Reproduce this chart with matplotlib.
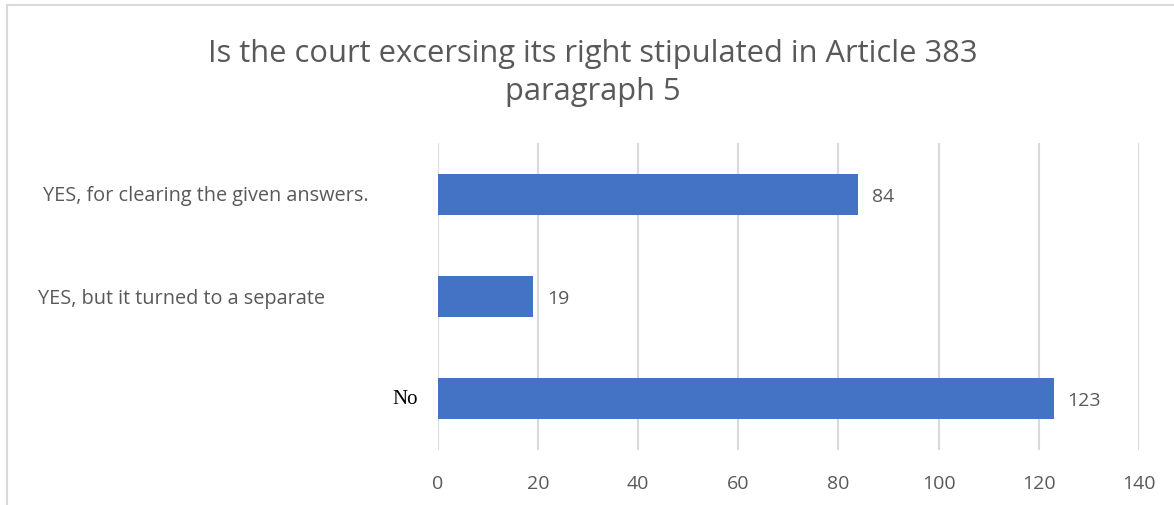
import matplotlib.pyplot as plt
from matplotlib.lines import Line2D
from matplotlib.transforms import blended_transform_factory

title = "Is the court excersing its right stipulated in Article 383\nparagraph 5"
categories = ["YES, for clearing the given answers.",
              "YES, but it turned to a separate",
              "No"]
values = [84, 19, 123]
xticks = [0, 20, 40, 60, 80, 100, 120, 140]

W, H = 1174, 506
fig = plt.figure(figsize=(W / 100, H / 100), dpi=100)
fig.patch.set_facecolor("white")

# plot area in pixels from the reference
left, right, top, bottom = 438, 1138.7, 144, 451
ax = fig.add_axes([left / W, 1 - bottom / H, (right - left) / W, (bottom - top) / H])

grey = "#595959"
font = "Open Sans"

ypos = list(range(len(categories)))
ax.barh(ypos, values, height=0.4, color="#4472C4", zorder=3)
ax.set_ylim(len(categories) - 0.5, -0.5)
ax.set_xlim(0, 140)
ax.set_xticks(xticks)
ax.set_xticklabels([str(t) for t in xticks], fontsize=14, color=grey, family=font)
ax.tick_params(axis="x", length=0, pad=17.5)
ax.set_yticks([])
ax.grid(axis="x", color="#d9d9d9", linewidth=1.5, zorder=0)
for s in ax.spines.values():
    s.set_visible(False)

# data labels
for y, v in zip(ypos, values):
    ax.annotate(str(v), (v, y), xytext=(10, -1), textcoords="offset points",
                va="center", ha="left", fontsize=14, color=grey, family=font)

# category labels (placed like in the original sheet)
tr = blended_transform_factory(ax.transAxes, ax.transData)
ax.text((43 - left) / (right - left), 0.01, categories[0], transform=tr,
        ha="left", va="center", fontsize=14.3, color=grey, family=font)
ax.text((38 - left) / (right - left), 1.01, categories[1], transform=tr,
        ha="left", va="center", fontsize=14.3, color=grey, family=font)
ax.text((418 - left) / (right - left), 2.0, categories[2], transform=tr,
        ha="right", va="center", fontsize=15, color="black", family="Liberation Serif")

fig.text(593 / W, 1 - 73 / H, title, ha="center", va="center",
         fontsize=22.2, color=grey, family=font, linespacing=1.35)

# chart border (only top and left edges visible in the crop)
fig.add_artist(Line2D([7 / W, 1], [1 - 5.5 / H, 1 - 5.5 / H], transform=fig.transFigure,
                      color="#d9d9d9", linewidth=1.5))
fig.add_artist(Line2D([7 / W, 7 / W], [0, 1 - 5.5 / H], transform=fig.transFigure,
                      color="#d9d9d9", linewidth=1.5))

fig.savefig("out.png", dpi=100)
